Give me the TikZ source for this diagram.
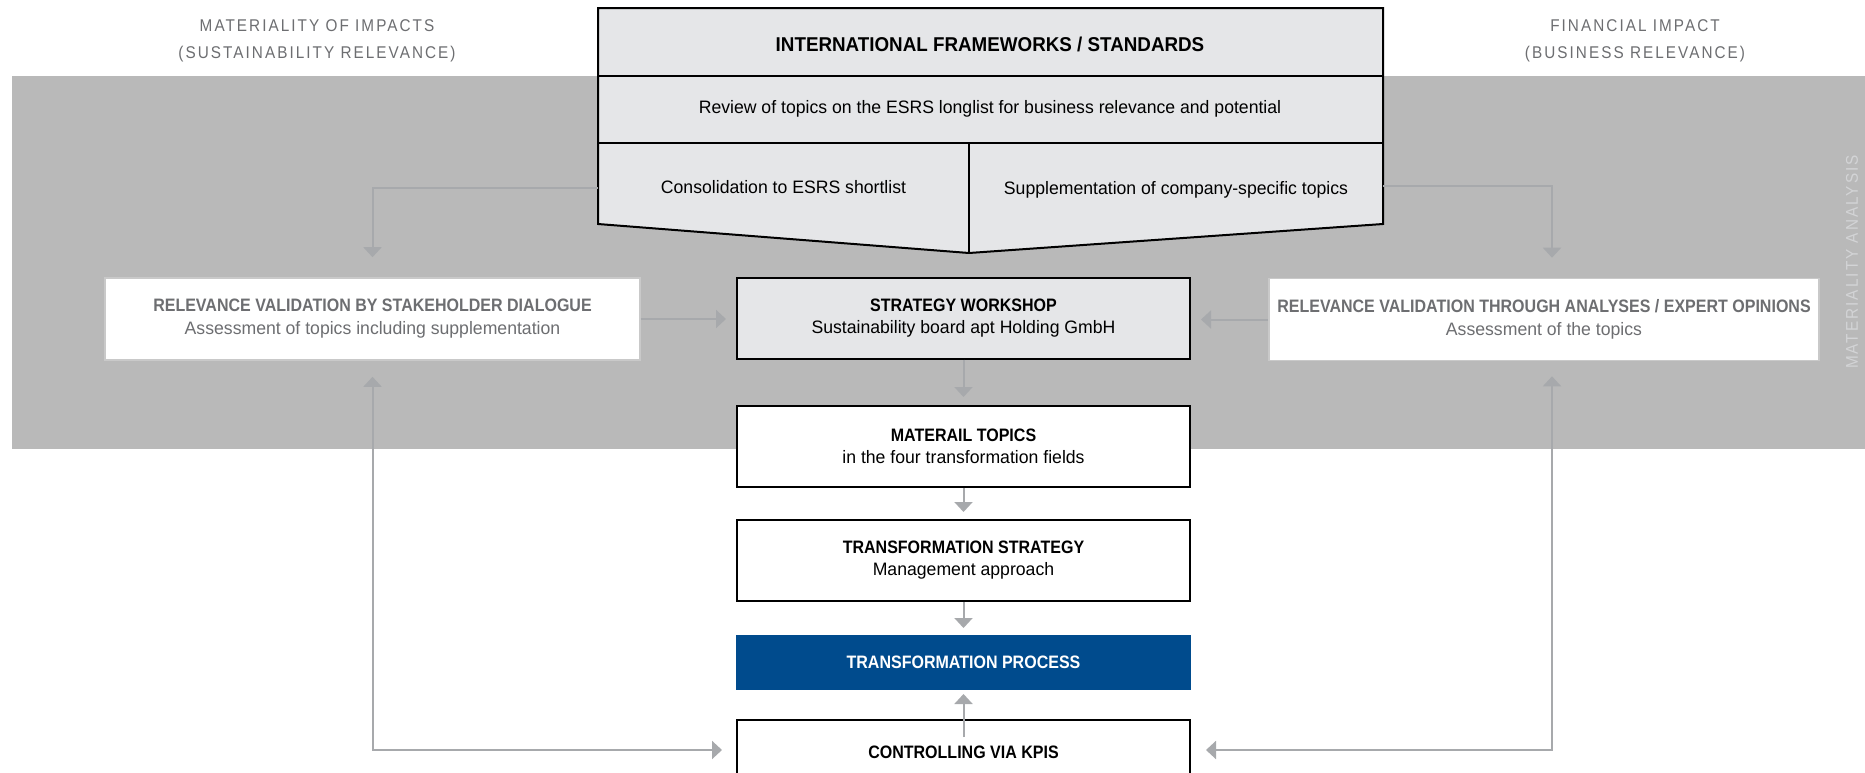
\documentclass[tikz,border=0pt]{standalone}
\usepackage{fontspec}
\setmainfont{Liberation Sans}[FakeStretch=0.98]
\newfontfamily\titlefont{Liberation Sans}[UprightFont={* Bold},FakeStretch=0.89]
\newfontfamily\fwfont{Liberation Sans}[UprightFont={* Bold},FakeStretch=0.94]
\newfontfamily\headfont{Liberation Sans}[FakeStretch=0.9,LetterSpace=12]
\usetikzlibrary{arrows.meta,positioning}

\definecolor{bandgray}{HTML}{B9B9B9}
\definecolor{boxfill}{HTML}{E5E6E8}
\definecolor{linegray}{HTML}{A7A9AC}
\definecolor{textgray}{HTML}{6D6E71}
\definecolor{sideedge}{HTML}{C9C9C9}
\definecolor{procblue}{HTML}{004B8D}
\definecolor{labelgray}{HTML}{D3D4D6}

\tikzset{
  >={Triangle[width=9pt,length=5pt]},
  flow/.style={draw=black,line width=1pt,fill=white,minimum width=226.5pt,minimum height=40.5pt,
    align=center,font=\fontsize{9}{11}\selectfont},
  sidebox/.style={draw=sideedge,line width=0.8pt,fill=white,minimum height=41pt,
    align=center,text=textgray,font=\fontsize{9}{11.5}\selectfont},
  link/.style={draw=linegray,line width=1pt,->},
  twoway/.style={draw=linegray,line width=1pt,<->},
  head/.style={text=textgray,align=center,font=\headfont\fontsize{8.5}{13.5}\selectfont},
  fwtext/.style={font=\fontsize{9}{11}\selectfont},
}

\begin{document}
\begin{tikzpicture}[x=0.5pt,y=-0.5pt]
\clip (0,0) rectangle (1865,772);
\fill[white] (0,0) rectangle (1865,772);
\fill[bandgray] (12,76) rectangle (1865,449);

\node[head] (impact) at (317,41) {MATERIALITY OF IMPACTS\\(SUSTAINABILITY RELEVANCE)};
\node[head] (finance) at (1635,41) {FINANCIAL IMPACT\\(BUSINESS RELEVANCE)};
\node[rotate=90,text=labelgray,font=\headfont\fontsize{8.5}{10}\selectfont] (analysis) at (1852,262) {MATERIALITY ANALYSIS};

\draw[line width=1pt,fill=boxfill] (598,8) -- (1383,8) -- (1383,224) -- (969,253) -- (598,224) -- cycle;
\draw[line width=1pt] (598,76) -- (1383,76) (598,143) -- (1383,143) (969,143) -- (969,253);
\node[font=\fwfont\fontsize{10}{12}\selectfont] (fwtitle) at (990,44) {INTERNATIONAL FRAMEWORKS / STANDARDS};
\node[fwtext] (fwreview) at (990,109) {Review of topics on the ESRS longlist for business relevance and potential};
\node[fwtext] (fwcons) at (783.5,187) {Consolidation to ESRS shortlist};
\node[fwtext] (fwsupp) at (1176,190) {Supplementation of company-specific topics};
\coordinate (fwL) at (598,188);
\coordinate (fwR) at (1383,186);

\node[sidebox,minimum width=267.5pt] (stake) at (372.5,319) {{\titlefont RELEVANCE VALIDATION BY STAKEHOLDER DIALOGUE}\\Assessment of topics including supplementation};
\node[sidebox,minimum width=275pt] (expert) at (1544,319.5) {{\titlefont RELEVANCE VALIDATION THROUGH ANALYSES / EXPERT OPINIONS}\\Assessment of the topics};

\node[flow,fill=boxfill] (workshop) at (963.5,318) {{\titlefont STRATEGY WORKSHOP}\\Sustainability board apt Holding GmbH};
\node[flow] (topics) at (963.5,446.5) {{\titlefont MATERAIL TOPICS}\\in the four transformation fields};
\node[flow] (strategy) at (963.5,560.5) {{\titlefont TRANSFORMATION STRATEGY}\\Management approach};
\node[flow,draw=procblue,fill=procblue,text=white,minimum height=26.5pt] (process) at (963.5,662.5) {\titlefont TRANSFORMATION PROCESS};
\node[flow,minimum height=32pt] (kpis) at (963.5,752) {\titlefont CONTROLLING VIA KPIS};

\draw[link,shorten >=10pt] (fwL) -| (stake.north);
\draw[link,shorten >=10pt] (fwR) -| ([xshift=4pt]expert.north);
\draw[link,shorten >=5pt] (stake.east) -- (workshop.west |- stake.east);
\draw[link,shorten >=5pt] (expert.west) -- (workshop.east |- expert.west);
\draw[link,shorten >=4pt] (workshop) -- (topics);
\draw[link,shorten >=3.5pt] (topics) -- (strategy);
\draw[link,shorten >=3.5pt] (strategy) -- (process);
\draw[link,shorten >=2pt] ([yshift=-9pt]kpis.north) -- (process.south);
\draw[twoway,shorten <=8pt,shorten >=7pt] (stake.south) |- ([yshift=1pt]kpis.west);
\draw[twoway,shorten <=7.5pt,shorten >=7.5pt] ([xshift=4pt]expert.south) |- ([yshift=1pt]kpis.east);
\end{tikzpicture}
\end{document}
